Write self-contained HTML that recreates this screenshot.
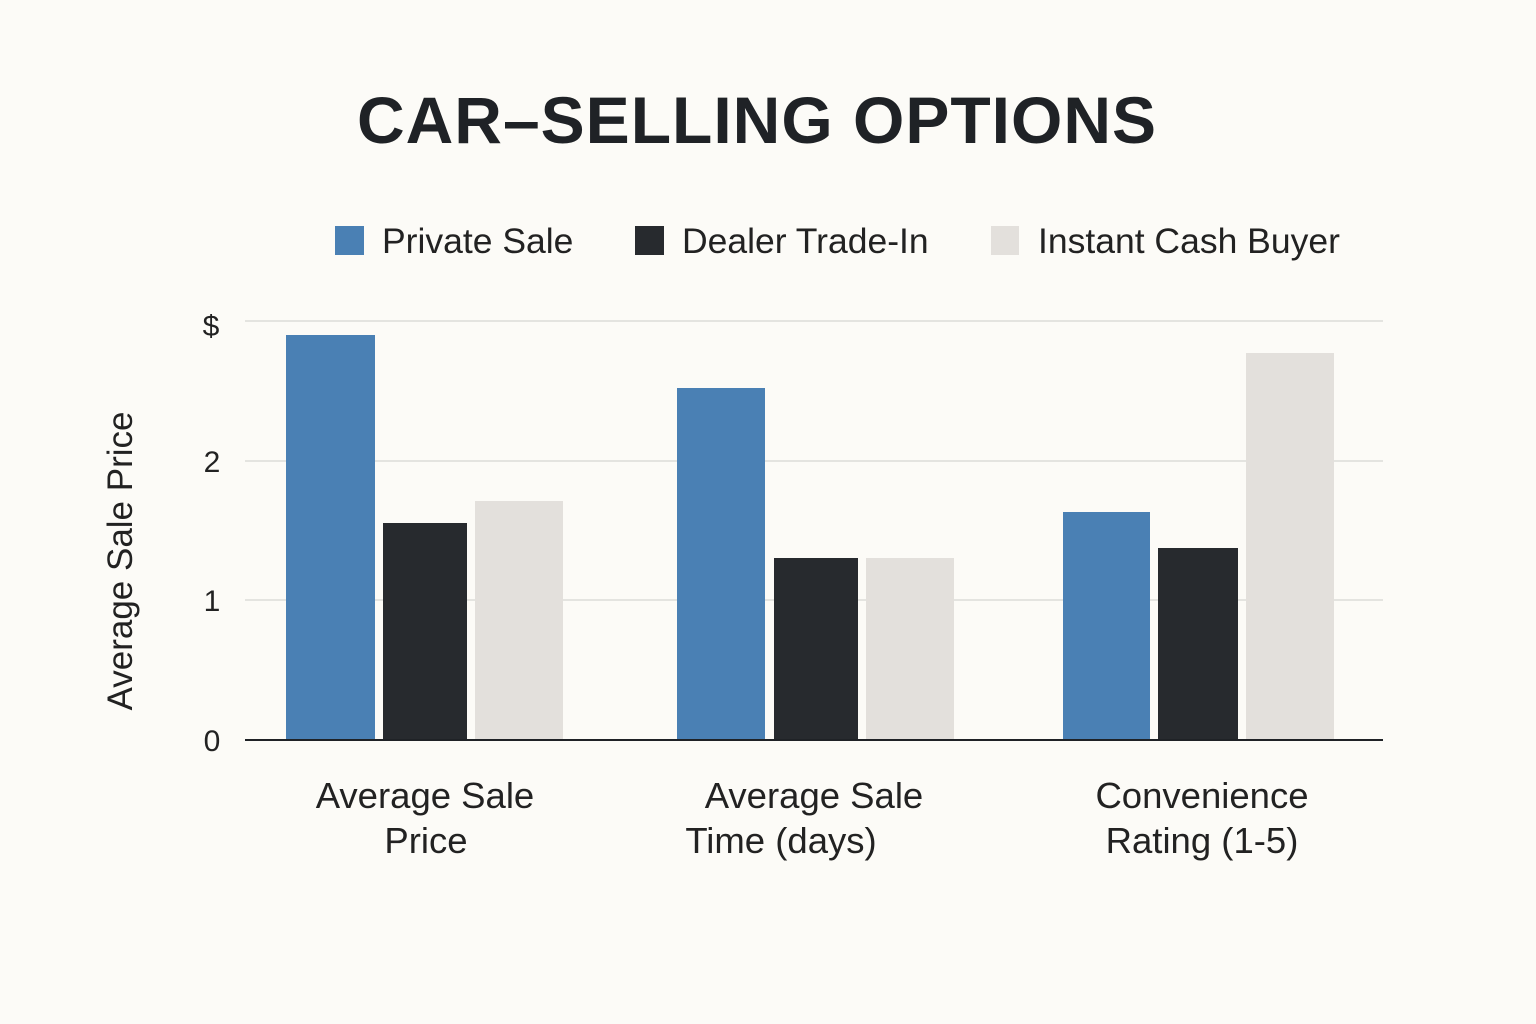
<!DOCTYPE html>
<html><head><meta charset="utf-8"><style>
html,body{margin:0;padding:0;background:#fcfbf7;}
svg{display:block;}
text{font-family:"Liberation Sans","DejaVu Sans",sans-serif;}
</style></head><body>
<svg width="1536" height="1024" viewBox="0 0 1536 1024" xmlns="http://www.w3.org/2000/svg">
<rect width="1536" height="1024" fill="#fcfbf7"/>
<text x="757" y="143" text-anchor="middle" font-size="66" font-weight="bold" fill="#1f2226" letter-spacing="1">CAR–SELLING OPTIONS</text>
<rect x="335" y="226" width="29" height="29" fill="#4a80b4"/>
<text x="382" y="253" font-size="35.5" fill="#222">Private Sale</text>
<rect x="635" y="226" width="29" height="29" fill="#272a2e"/>
<text x="682" y="253" font-size="35.5" fill="#222">Dealer Trade-In</text>
<rect x="991" y="226" width="28" height="29" fill="#e3e0dc"/>
<text x="1038" y="253" font-size="35.5" fill="#222">Instant Cash Buyer</text>
<g stroke="#dcdcd8" stroke-width="1.5">
<line x1="245" y1="321" x2="1383" y2="321"/>
<line x1="245" y1="461" x2="1383" y2="461"/>
<line x1="245" y1="600" x2="1383" y2="600"/>
</g>
<g font-size="30" fill="#222" text-anchor="middle">
<text x="211" y="336">$</text>
<text x="212" y="472">2</text>
<text x="212" y="611">1</text>
<text x="212" y="751">0</text>
</g>
<text transform="translate(132,561) rotate(-90)" text-anchor="middle" font-size="35" fill="#222">Average Sale Price</text>
<rect x="286" y="335" width="89" height="405" fill="#4a80b4"/>
<rect x="383" y="523" width="84" height="217" fill="#272a2e"/>
<rect x="475" y="501" width="88" height="239" fill="#e3e0dc"/>
<rect x="677" y="388" width="88" height="352" fill="#4a80b4"/>
<rect x="774" y="558" width="84" height="182" fill="#272a2e"/>
<rect x="866" y="558" width="88" height="182" fill="#e3e0dc"/>
<rect x="1063" y="512" width="87" height="228" fill="#4a80b4"/>
<rect x="1158" y="548" width="80" height="192" fill="#272a2e"/>
<rect x="1246" y="353" width="88" height="387" fill="#e3e0dc"/>
<line x1="245" y1="740" x2="1383" y2="740" stroke="#1f2226" stroke-width="2"/>
<g font-size="36.5" fill="#222" text-anchor="middle">
<text x="425" y="808">Average Sale</text>
<text x="426" y="853">Price</text>
<text x="814" y="808">Average Sale</text>
<text x="781" y="853">Time (days)</text>
<text x="1202" y="808">Convenience</text>
<text x="1202" y="853">Rating (1-5)</text>
</g>
</svg>
</body></html>
